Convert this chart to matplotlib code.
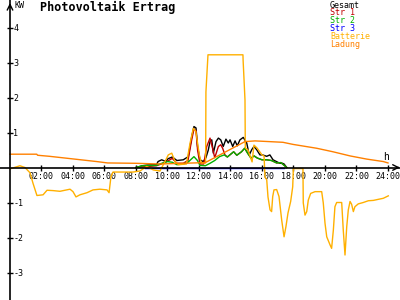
import numpy as np
import matplotlib
matplotlib.use("Agg")
import matplotlib.pyplot as plt

# --- Werte (Stunden, kW) ---
t_ges = [8.0, 8.4, 8.7, 9.3, 9.4, 9.63, 9.9, 10.03, 10.3, 10.6, 11.0, 11.32, 11.54, 11.68,
         11.81, 11.91, 12.06, 12.27, 12.44, 12.59, 12.7, 12.81, 12.91, 13.08, 13.23, 13.38,
         13.54, 13.71, 13.86, 13.97, 14.14, 14.29, 14.43, 14.6, 14.81, 15.03, 15.19, 15.35,
         15.49, 15.66, 15.87, 16.03, 16.3, 16.5, 16.7, 17.0, 17.14, 17.3, 17.4, 17.57]
gesamt = [0.0, 0.05, 0.07, 0.08, 0.17, 0.22, 0.17, 0.25, 0.3, 0.2, 0.22, 0.31, 0.89, 1.17,
          1.13, 0.6, 0.22, 0.17, 0.28, 0.5, 0.74, 0.79, 0.41, 0.74, 0.84, 0.79,
          0.6, 0.81, 0.70, 0.79, 0.6, 0.76, 0.62, 0.79, 0.86, 0.70, 0.36, 0.51,
          0.6, 0.51, 0.36, 0.36, 0.32, 0.36, 0.22, 0.15, 0.12, 0.12, 0.1, 0.0]

t_str2 = [8.0, 8.4, 9.3, 9.5, 10.0, 10.3, 10.6, 11.0, 11.3, 11.68, 11.9, 12.06, 12.4, 12.7,
          13.0, 13.3, 13.6, 13.8, 14.2, 14.4, 14.7, 14.9, 15.1, 15.3, 15.5, 15.7, 16.0,
          16.3, 16.6, 16.93, 17.2, 17.57]
str2 = [0.0, 0.05, 0.06, 0.1, 0.17, 0.15, 0.08, 0.1, 0.15, 0.31, 0.2, 0.06, 0.05, 0.12,
        0.2, 0.31, 0.36, 0.3, 0.45, 0.35, 0.45, 0.55, 0.4, 0.27, 0.33, 0.27, 0.22,
        0.22, 0.2, 0.13, 0.14, 0.0]

t_str1 = [8.0, 9.3, 9.6, 10.0, 10.3, 10.6, 11.0, 11.3, 11.54, 11.68, 11.81, 11.91, 12.06,
          12.3, 12.49, 12.7, 12.86, 13.0, 13.23, 13.38, 13.5, 13.65, 13.8, 14.2, 14.4,
          14.7, 14.9, 15.1, 15.3, 15.5, 15.7, 16.0, 16.3, 16.6, 16.93, 17.2, 17.57]
str1 = [0.0, 0.05, 0.1, 0.18, 0.26, 0.12, 0.12, 0.2, 0.8, 1.1, 1.05, 0.5, 0.1,
        0.1, 0.6, 0.84, 0.55, 0.28, 0.6, 0.65, 0.55, 0.36, 0.3, 0.45, 0.35,
        0.45, 0.55, 0.4, 0.27, 0.33, 0.27, 0.22, 0.22, 0.2, 0.13, 0.14, 0.0]

t_str3 = [8.6, 17.4]
str3 = [0.0, 0.0]

t_bat = [0.0, 0.63, 0.95, 1.27, 1.46, 1.71, 2.1, 2.35, 2.73, 3.17, 3.81, 4.0, 4.19, 4.44,
         4.89, 5.27, 5.71, 6.16, 6.29, 6.41, 6.54, 7.81, 8.25, 8.68, 9.1, 9.52, 9.84,
         10.05, 10.27, 10.48, 10.7, 11.2, 11.43, 11.64, 11.8, 12.02, 12.15, 12.42, 12.44,
         12.57, 14.79, 14.8, 14.92, 14.94, 15.11, 15.37, 15.49, 15.68, 16.0, 16.13, 16.19,
         16.3, 16.38, 16.51, 16.61, 16.68, 16.76, 16.93, 17.08, 17.25, 17.4, 17.52, 17.65,
         17.82, 17.95, 17.99, 18.6, 18.62, 18.73, 18.84, 18.94, 19.09, 19.37, 19.79, 19.89,
         20.0, 20.11, 20.32, 20.42, 20.53, 20.63, 20.74, 21.06, 21.16, 21.27, 21.38, 21.48,
         21.59, 21.69, 21.8, 21.9, 22.11, 22.43, 22.75, 23.07, 23.38, 23.7, 24.02]
batterie = [-0.04, 0.05, 0.0, -0.15, -0.45, -0.8, -0.78, -0.65, -0.66, -0.68, -0.62, -0.69,
            -0.84, -0.78, -0.72, -0.64, -0.62, -0.64, -0.72, -0.26, -0.13, -0.13, -0.1,
            0.03, -0.07, -0.1, 0.17, 0.36, 0.41, 0.17, 0.08, 0.1, 0.69, 1.12, 1.03, 0.36,
            0.13, 0.13, 2.16, 3.22, 3.22, 3.07, 1.93, 0.56, 0.5, 0.16, 0.64, 0.56, 0.36,
            0.33, -0.27, -0.35, -0.84, -1.21, -1.26, -0.83, -0.64, -0.63, -0.83, -1.5,
            -1.98, -1.69, -1.3, -0.97, -0.55, -0.03, -0.03, -1.01, -1.36, -1.26, -0.93,
            -0.74, -0.69, -0.69, -1.01, -1.59, -1.98, -2.21, -2.31, -1.79, -1.12, -1.0,
            -1.0, -1.79, -2.5, -1.69, -1.21, -0.97, -1.05, -1.26, -1.12, -1.04, -1.0,
            -0.95, -0.94, -0.91, -0.88, -0.81]

t_lad = [0.0, 1.7, 1.75, 2.5, 3.5, 4.5, 5.5, 6.2, 8.0, 9.5, 12.4, 14.92, 15.56, 17.33,
         17.97, 19.47, 20.5, 21.6, 22.65, 23.7, 24.0]
ladung = [0.38, 0.38, 0.35, 0.32, 0.27, 0.22, 0.17, 0.13, 0.12, 0.10, 0.14, 0.74, 0.76,
          0.72, 0.66, 0.55, 0.45, 0.33, 0.24, 0.17, 0.13]

namen = ["Gesamt", "Str 1", "Str 2", "Str 3", "Batterie", "Ladung"]
farben = ["#000000", "#c00000", "#00b000", "#0000ff", "#ffb000", "#ff8000"]
x_ticks = list(range(2, 25, 2))
x_labels = ["%02d:00" % h for h in x_ticks]
y_ticks = [-3, -2, -1, 1, 2, 3, 4]

plt.rcParams['font.family'] = 'DejaVu Sans Mono'

fig = plt.figure(figsize=(4, 3), dpi=100)
ax = fig.add_axes([0, 0, 1, 1])
ax.set_xlim(-10 / 15.75, 390 / 15.75)
ax.set_ylim(-132.5 / 35, 167.5 / 35)

for sp in ['top', 'right']:
    ax.spines[sp].set_visible(False)
ax.spines['left'].set_position(('data', 0))
ax.spines['bottom'].set_position(('data', 0))
ax.spines['left'].set_linewidth(1.2)
ax.spines['bottom'].set_linewidth(1.2)

ax.set_xticks(x_ticks)
ax.set_xticklabels(x_labels, fontsize=6)
ax.set_yticks(y_ticks)
ax.set_yticklabels([str(v) for v in y_ticks], fontsize=6)
ax.tick_params(direction='inout', length=5, width=1)
ax.tick_params(axis='x', pad=1)
ax.tick_params(axis='y', pad=-5)
for lab in ax.get_yticklabels():
    lab.set_horizontalalignment('left')

# Pfeilspitzen
ax.annotate('', xy=(0, 4.78), xytext=(0, 4.5),
            arrowprops=dict(arrowstyle='->', lw=1, color='black'))
ax.annotate('', xy=(24.75, 0), xytext=(24.4, 0),
            arrowprops=dict(arrowstyle='->', lw=1, color='black'))

daten = [(t_ges, gesamt), (t_str1, str1), (t_str2, str2), (t_str3, str3),
         (t_bat, batterie), (t_lad, ladung)]
for (t, v), f in zip(daten, farben):
    ax.plot(t, v, color=f, lw=1.0)

fig.text(40 / 400, 1 - 7.5 / 300, "Photovoltaik Ertrag", fontsize=8.5, fontweight='bold',
         ha='left', va='center')
fig.text(14 / 400, 1 - 5 / 300, "KW", fontsize=6, ha='left', va='center')
ax.text(23.9, 0.3, "h", fontsize=7, ha='center', va='center')

for i, (n, f) in enumerate(zip(namen, farben)):
    fig.text(330 / 400, 1 - (5 + i * 7.8) / 300, n, color=f, fontsize=6,
             ha='left', va='center')

fig.savefig("out.png")
